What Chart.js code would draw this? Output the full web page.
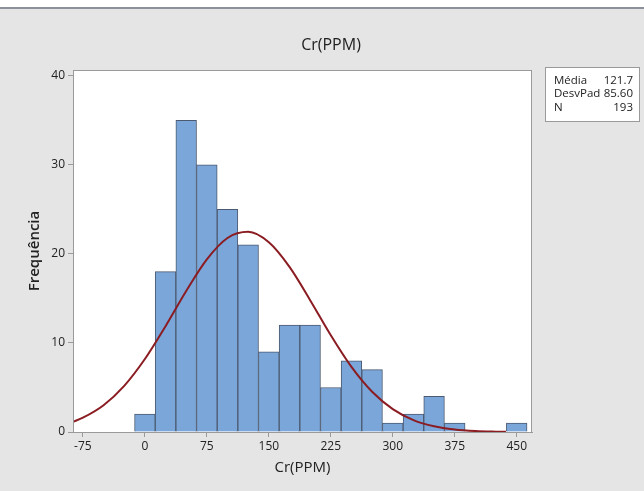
<!DOCTYPE html>
<html>
<head>
<meta charset="utf-8">
<script src="https://cdn.jsdelivr.net/npm/chart.js@4/dist/chart.umd.min.js"></script>
<style>
  html, body { margin: 0; padding: 0; background: #e5e5e5; }
  #wrap { width: 644px; height: 491px; position: relative; }
</style>
</head>
<body>
<div id="wrap"><canvas id="c" width="644" height="491"></canvas></div>
<script>
// ---- data ----
const binCenters = [0, 25, 50, 75, 100, 125, 150, 175, 200, 225, 250, 275, 300, 325, 350, 375, 400, 425, 450];
const frequencies = [2, 18, 35, 30, 25, 21, 9, 12, 12, 5, 8, 7, 1, 2, 4, 1, null, null, 1];
const curveX = [-87, -75, -50, -25, 0, 25, 50, 75, 100, 125, 150, 175, 200, 225, 250, 275, 300, 325, 350, 375, 400, 425, 437];
const curveY = [1.15, 1.61, 3.01, 5.18, 8.19, 11.88, 15.83, 19.38, 21.78, 22.47, 21.29, 18.53, 14.80, 10.86, 7.31, 4.52, 2.57, 1.34, 0.64, 0.28, 0.11, 0.04, 0.02];
const xTicks = [-75, 0, 75, 150, 225, 300, 375, 450];
const yTicks = [0, 10, 20, 30, 40];
const statLabels = ['Média', 'DesvPad', 'N'];
const statValues = ['121.7', '85.60', '193'];
const chartTitle = 'Cr(PPM)';
const xTitle = 'Cr(PPM)';
const yTitle = 'Frequência';

const FONT = "'Open Sans', 'Noto Sans', sans-serif";

const bgPlugin = {
  id: 'bg',
  beforeDraw(chart) {
    const ctx = chart.ctx;
    const a = chart.chartArea;
    ctx.save();
    ctx.fillStyle = '#e5e5e5';
    ctx.fillRect(0, 0, chart.width, chart.height);
    ctx.fillStyle = '#ffffff';
    ctx.fillRect(0, 0, chart.width, 7);
    ctx.fillStyle = '#8c909b';
    ctx.fillRect(0, 7, chart.width, 2);
    ctx.fillStyle = '#ffffff';
    ctx.fillRect(a.left, a.top, a.right - a.left, a.bottom - a.top);
    ctx.restore();
  },
  afterDraw(chart) {
    const ctx = chart.ctx;
    const a = chart.chartArea;
    ctx.save();
    ctx.strokeStyle = '#9a9a9a';
    ctx.lineWidth = 1;
    ctx.strokeRect(a.left + 0.5, a.top + 0.5, a.right - a.left - 1, a.bottom - a.top);
    // chart title
    ctx.fillStyle = '#222';
    ctx.font = '16px ' + FONT;
    ctx.textAlign = 'center';
    ctx.textBaseline = 'middle';
    ctx.fillText(chartTitle, 331, 45);
    // stats box
    const bx = 545, by = 67, bw = 95, bh = 55;
    ctx.fillStyle = '#ffffff';
    ctx.fillRect(bx, by, bw, bh);
    ctx.strokeStyle = '#9a9a9a';
    ctx.strokeRect(bx + 0.5, by + 0.5, bw - 1, bh - 1);
    ctx.fillStyle = '#222';
    ctx.font = '11.5px ' + FONT;
    ctx.textBaseline = 'middle';
    for (let i = 0; i < statLabels.length; i++) {
      const y = 80.5 + i * 13.4;
      ctx.textAlign = 'left';
      ctx.fillText(statLabels[i], 554, y);
      ctx.textAlign = 'right';
      ctx.fillText(statValues[i], 633, y);
    }
    ctx.restore();
  }
};

new Chart(document.getElementById('c'), {
  data: {
    datasets: [
      {
        type: 'line',
        order: 0,
        data: curveX.map((x, i) => ({ x: x, y: curveY[i] })),
        borderColor: '#8a1c22',
        borderWidth: 2,
        pointRadius: 0,
        cubicInterpolationMode: 'monotone',
        fill: false
      },
      {
        type: 'bar',
        order: 1,
        data: binCenters.map((x, i) => ({ x: x, y: frequencies[i] })),
        backgroundColor: '#7ba6d9',
        borderColor: '#4b5a70',
        borderWidth: 1,
        borderSkipped: 'bottom',
        barPercentage: 1,
        categoryPercentage: 1,
        grouped: false
      }
    ]
  },
  options: {
    responsive: false,
    animation: false,
    events: [],
    layout: { padding: { left: 0, right: 112, top: 70, bottom: 0 } },
    plugins: {
      legend: { display: false },
      tooltip: { enabled: false },
      title: { display: false }
    },
    scales: {
      x: {
        type: 'linear',
        min: -87,
        max: 468.5,
        offset: false,
        afterBuildTicks(scale) { scale.ticks = xTicks.map(v => ({ value: v })); },
        afterFit(scale) { scale.height = 59; },
        ticks: {
          color: '#222',
          font: { family: FONT, size: 12 },
          padding: 2,
          maxRotation: 0,
          autoSkip: false,
          callback: v => String(v)
        },
        grid: { offset: false, drawOnChartArea: false, drawTicks: true, tickLength: 5, color: '#9a9a9a' },
        border: { display: true, color: '#9a9a9a' },
        title: {
          display: true,
          text: xTitle,
          color: '#222',
          font: { family: FONT, size: 15 },
          padding: { top: 0, bottom: 14 }
        }
      },
      y: {
        type: 'linear',
        min: 0,
        max: 40.64,
        afterBuildTicks(scale) { scale.ticks = yTicks.map(v => ({ value: v })); },
        afterFit(scale) { scale.width = 73; },
        ticks: {
          color: '#222',
          font: { family: FONT, size: 12 },
          padding: 3,
          callback: v => String(v)
        },
        grid: { offset: false, drawOnChartArea: false, drawTicks: true, tickLength: 5, color: '#9a9a9a' },
        border: { display: true, color: '#9a9a9a' },
        title: {
          display: true,
          text: yTitle,
          color: '#222',
          font: { family: FONT, size: 15, weight: '600' },
          padding: { top: 26, bottom: 0 }
        }
      }
    }
  },
  plugins: [bgPlugin]
});
</script>
</body>
</html>
